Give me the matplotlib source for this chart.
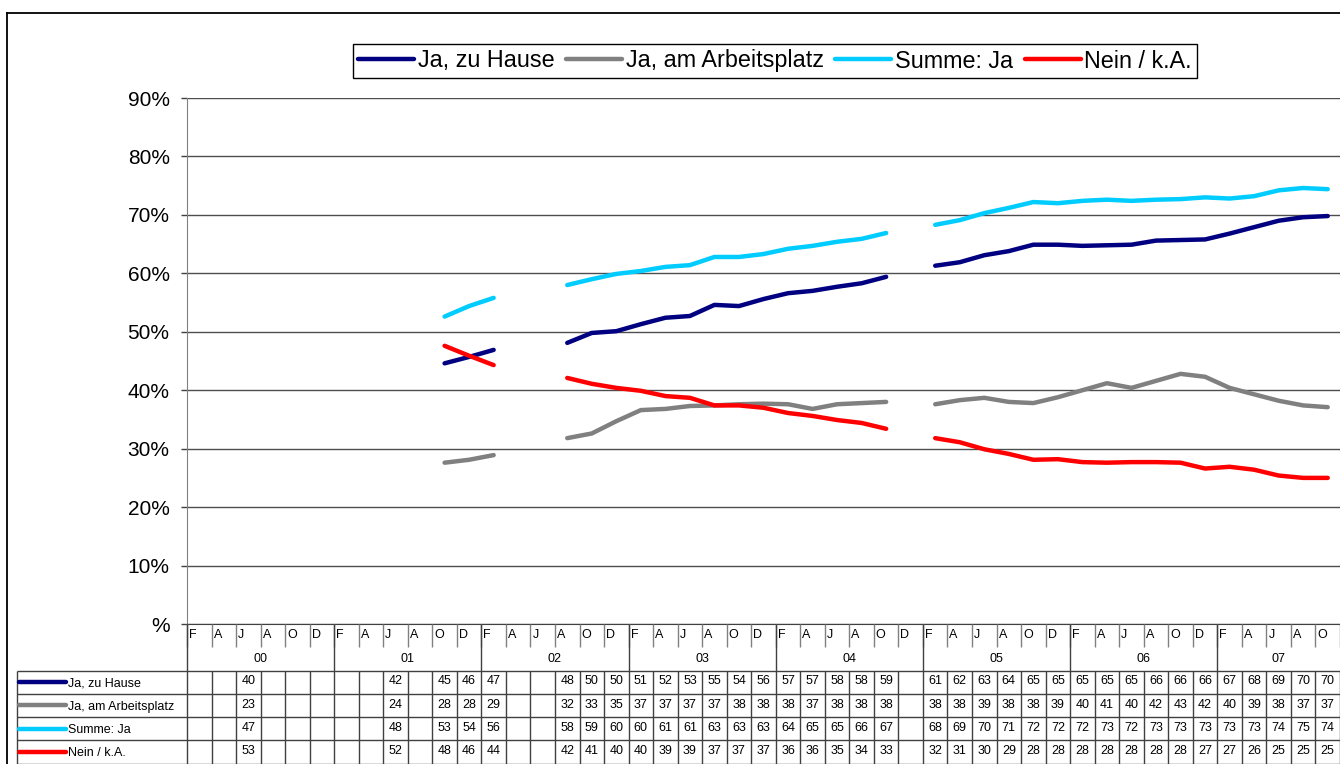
import matplotlib.pyplot as plt
import numpy as np
from matplotlib.lines import Line2D

plt.rcParams["font.family"] = ["Liberation Sans", "DejaVu Sans"]

nan = np.nan

# categories: two-monthly survey waves 2000 - 2007
months = ["F", "A", "J", "A", "O", "D"] * 7 + ["F", "A", "J", "A", "O"]
years = ["00", "01", "02", "03", "04", "05", "06", "07"]

# values in percent (the table shows them rounded)
zu_hause = [nan, nan, 40.0, nan, nan, nan,
            nan, nan, 42.0, nan, 44.6, 45.7,
            46.9, nan, nan, 48.1, 49.8, 50.1,
            51.3, 52.4, 52.7, 54.6, 54.4, 55.6,
            56.6, 57.0, 57.7, 58.3, 59.4, nan,
            61.3, 61.9, 63.1, 63.8, 64.9, 64.9,
            64.7, 64.8, 64.9, 65.6, 65.7, 65.8,
            66.8, 67.9, 69.0, 69.6, 69.8]
arbeitsplatz = [nan, nan, 23.0, nan, nan, nan,
                nan, nan, 24.0, nan, 27.6, 28.1,
                28.9, nan, nan, 31.8, 32.6, 34.7,
                36.6, 36.8, 37.3, 37.4, 37.6, 37.7,
                37.6, 36.8, 37.6, 37.8, 38.0, nan,
                37.6, 38.3, 38.7, 38.0, 37.8, 38.8,
                40.0, 41.2, 40.4, 41.6, 42.8, 42.3,
                40.4, 39.3, 38.2, 37.4, 37.1]
summe_ja = [nan, nan, 47.0, nan, nan, nan,
            nan, nan, 48.0, nan, 52.6, 54.4,
            55.8, nan, nan, 58.0, 59.0, 59.9,
            60.4, 61.1, 61.4, 62.8, 62.8, 63.3,
            64.2, 64.7, 65.4, 65.9, 66.9, nan,
            68.3, 69.1, 70.3, 71.2, 72.2, 72.0,
            72.4, 72.6, 72.4, 72.6, 72.7, 73.0,
            72.8, 73.2, 74.2, 74.6, 74.4]
nein = [nan, nan, 53.0, nan, nan, nan,
        nan, nan, 52.0, nan, 47.6, 45.9,
        44.3, nan, nan, 42.1, 41.1, 40.4,
        39.9, 39.0, 38.7, 37.4, 37.4, 37.0,
        36.1, 35.6, 34.9, 34.4, 33.4, nan,
        31.8, 31.1, 29.9, 29.1, 28.1, 28.2,
        27.7, 27.6, 27.7, 27.7, 27.6, 26.6,
        26.9, 26.4, 25.4, 25.0, 25.0]

series = [zu_hause, arbeitsplatz, summe_ja, nein]
names = ["Ja, zu Hause", "Ja, am Arbeitsplatz", "Summe: Ja", "Nein / k.A."]
colors = ["#000080", "#808080", "#00CCFF", "#FF0000"]

yticks = [0, 10, 20, 30, 40, 50, 60, 70, 80, 90]
ylabels = ["%"] + [f"{t}%" for t in yticks[1:]]

W, H = 1340, 764
fig = plt.figure(figsize=(W / 100, H / 100), dpi=100)

left, right, top, bottom = 187, 1340, 98, 624
ax = fig.add_axes([left / W, 1 - bottom / H, (right - left) / W, (bottom - top) / H])
x = np.arange(len(months))
handles = []
for vals, name, col in zip(series, names, colors):
    (ln,) = ax.plot(x, vals, color=col, lw=3.2, solid_capstyle="round",
                    solid_joinstyle="round", label=name)
    handles.append(ln)

ax.set_xlim(-0.5, len(months) - 0.5)
ax.set_ylim(0, 90)
ax.set_yticks(yticks)
ax.set_yticklabels(ylabels, fontsize=15)
ax.set_xticks([])
ax.tick_params(axis="y", length=4.5, width=1, color="#404040", pad=8)
ax.yaxis.grid(True, color="#4d4d4d", lw=1)
ax.set_axisbelow(True)
for s in ["top", "right"]:
    ax.spines[s].set_visible(False)
ax.spines["left"].set_color("#808080")
ax.spines["bottom"].set_color("#404040")

# category axis + data table below the plot
tab = fig.add_axes([left / W, 0, (right - left) / W, (H - bottom) / H])
tab.set_xlim(-0.5, len(months) - 0.5)
tab.set_ylim(6.02, 0)
tab.axis("off")
lc = "#404040"
px = (right - left) / len(months)
x_key = -0.5 - (left - 17) / px

bounds = np.arange(len(months) + 1) - 0.5
tab.vlines(bounds, 0, 1, color="#808080", lw=1, clip_on=False)
tab.vlines(bounds[::6], 0, 2, color=lc, lw=1, clip_on=False)
tab.vlines(bounds, 2, 6, color=lc, lw=1, clip_on=False)
tab.vlines([x_key], 2, 6, color=lc, lw=1, clip_on=False)
tab.hlines([2, 3, 4, 5, 6], x_key, len(months) - 0.5, color=lc, lw=1, clip_on=False)

for i, m in enumerate(months):
    tab.text(i - 0.42, 0.2, m, fontsize=9, ha="left", va="top")
for j, yr in enumerate(years):
    n = min(6, len(months) - 6 * j)
    tab.text(6 * j + (n - 1) / 2, 1.5, yr, fontsize=9, ha="center", va="center")

for r, (vals, name, col) in enumerate(zip(series, names, colors)):
    yr_ = 2.5 + r
    tab.plot([-0.5 - (left - 19) / px, -0.5 - (left - 66) / px], [yr_, yr_],
             color=col, lw=3.2, solid_capstyle="round", clip_on=False)
    tab.text(-0.5 - (left - 68) / px, yr_ + 0.05, name, fontsize=9,
             ha="left", va="center", clip_on=False)
    for i, v in enumerate(vals):
        if not np.isnan(v):
            tab.text(i, yr_ - 0.03, f"{int(v + 0.5)}", fontsize=9,
                     ha="center", va="center")

# outer chart border
fig.add_artist(Line2D([7 / W, 7 / W], [0, 1 - 13 / H], color="black", lw=1.3))
fig.add_artist(Line2D([7 / W, 1], [1 - 13 / H, 1 - 13 / H], color="black", lw=1.3))

fig.legend(handles, names, loc="center", ncol=4,
           bbox_to_anchor=(775 / W, 1 - 61 / H), bbox_transform=fig.transFigure,
           fontsize=16.8, frameon=True, fancybox=False, framealpha=1,
           edgecolor="black", handlelength=2.4, handletextpad=0.15,
           columnspacing=0.5, borderpad=0.22, borderaxespad=0)

fig.savefig("out.png", dpi=100)
